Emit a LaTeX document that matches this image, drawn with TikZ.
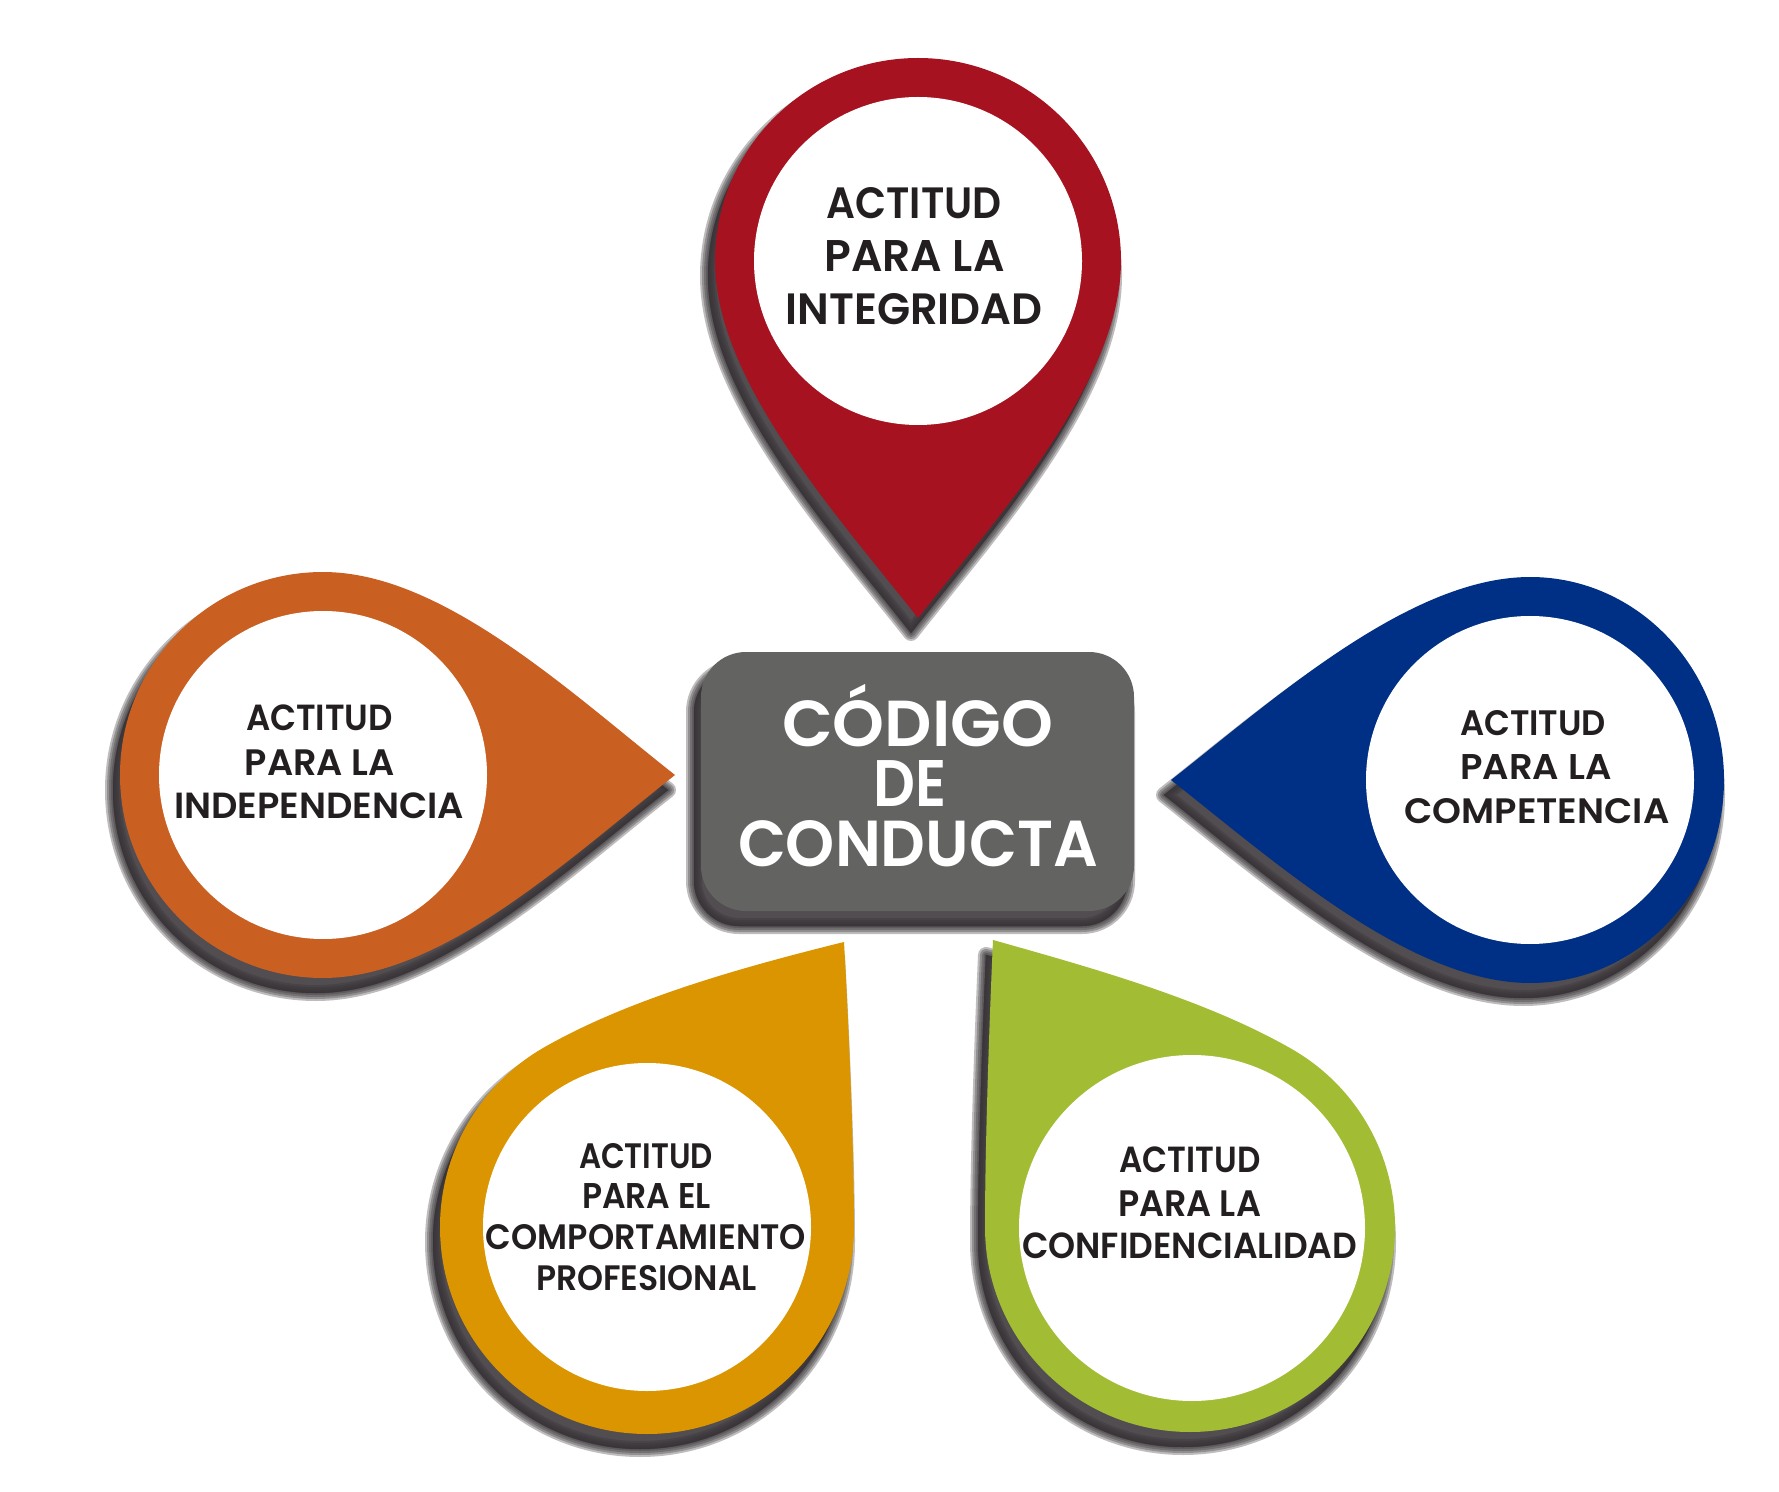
\documentclass[tikz,border=0pt]{standalone}
\usepackage{fontspec}
\usepackage{graphicx}
\newfontfamily\pop{Poppins}[BoldFont={Poppins SemiBold}]
\definecolor{cred}{HTML}{A6121F}
\definecolor{corange}{HTML}{C96022}
\definecolor{cblue}{HTML}{003085}
\definecolor{cgold}{HTML}{DA9500}
\definecolor{cgreen}{HTML}{A2BC33}
\definecolor{cbox}{HTML}{636362}
\definecolor{cshadow}{HTML}{353134}
\definecolor{ctext}{HTML}{231F20}
\newlength\pxu
\setlength\pxu{0.5pt}
\newcommand\fitt[3]{\resizebox{#1\pxu}{#2\pxu}{#3}}
\newcommand\pinpath[2]{(#2,0) .. controls ({#2-103},81) and (120,203) .. (0,203) arc[start angle=90, end angle=270, x radius=#1, y radius=203] .. controls (120,-203) and ({#2-103},-81) .. (#2,0) -- cycle}
\def\boxpath{[rounded corners=22.5pt] (701,652) rectangle (1134,911)}
\def\goldpath{(844,942) .. controls (849,1030) and (854,1150) .. (854,1227) arc[start angle=0, end angle=240, radius=207] .. controls (630,998) and (747,966) .. (844,942) -- cycle}
\def\greenpath{(993,940) .. controls (989,1030) and (985,1150) .. (985,1227) arc[start angle=180, end angle=-60, radius=205] .. controls (1206,999.5) and (1089,967) .. (993,940) -- cycle}
\newcommand\shadowof[1]{\foreach \lw in {16,12,8,4,1}{\path[shadelayer=\lw\pxu] #1;}}
\begin{document}
\begin{tikzpicture}[x=0.5pt,y=-0.5pt]
\tikzset{
 lbl/.style={inner sep=0pt, anchor=base, text=ctext, font=\pop\bfseries\fontsize{18}{20}\selectfont},
 ctr/.style={inner sep=0pt, anchor=base, text=white, font=\pop\bfseries\fontsize{33}{36}\selectfont},
 shadelayer/.style={fill=cshadow, draw=cshadow, fill opacity=0.32, draw opacity=0.32, line join=round, line width=#1},
}
\useasboundingbox (0,0) rectangle (1779,1492);
\fill[white] (0,0) rectangle (1779,1492);
% shadows
\begin{scope}[shift={(-7,15)}]
 \begin{scope}[shift={(918,261)},rotate=-90] \shadowof{\pinpath{203}{357}} \end{scope}
 \begin{scope}[shift={(323,775)}] \shadowof{\pinpath{203}{352}} \end{scope}
 \begin{scope}[shift={(1530,780)},rotate=180] \shadowof{\pinpath{194}{359}} \end{scope}
 \shadowof{\goldpath}
 \shadowof{\greenpath}
 \shadowof{\boxpath}
\end{scope}
% shapes
\begin{scope}[shift={(918,261)},rotate=-90]
 \fill[cred] \pinpath{203}{357};
 \fill[white] (0,0) circle[radius=164];
\end{scope}
\begin{scope}[shift={(323,775)}]
 \fill[corange] \pinpath{203}{352};
 \fill[white] (0,0) circle[radius=164];
\end{scope}
\begin{scope}[shift={(1530,780)},rotate=180]
 \fill[cblue] \pinpath{194}{359};
 \fill[white] (0,0) circle[radius=164];
\end{scope}
\fill[cgold] \goldpath;
\fill[white] (647,1227) circle[radius=164];
\fill[cgreen] \greenpath;
\fill[white] (1192,1228) circle[radius=173];
\fill[cbox] \boxpath;
% texts
\node[ctr] (c1) at (917.5,746) {\fitt{271}{46}{C\smash{Ó}DIGO}};
\node[ctr] (c2) at (910,806) {\fitt{73}{46}{DE}};
\node[ctr] (c3) at (918,866) {\fitt{360}{46}{CONDUCTA}};
\node[lbl] (r1) at (914,219) {\fitt{175}{31}{ACTITUD}};
\node[lbl] (r2) at (914.5,272) {\fitt{180}{31}{PARA LA}};
\node[lbl] (r3) at (914,325) {\fitt{257}{31}{INTEGRIDAD}};
\node[lbl] (o1) at (319.5,731) {\fitt{147}{25.7}{ACTITUD}};
\node[lbl] (o2) at (320,775) {\fitt{150}{25.7}{PARA LA}};
\node[lbl] (o3) at (319,819) {\fitt{290}{25.7}{INDEPENDENCIA}};
\node[lbl] (b1) at (1533,735) {\fitt{146}{25}{ACTITUD}};
\node[lbl] (b2) at (1536,779) {\fitt{151}{25}{PARA LA}};
\node[lbl] (b3) at (1537,823) {\fitt{265}{25}{COMPETENCIA}};
\node[lbl] (g1) at (646,1168) {\fitt{134}{25}{ACTITUD}};
\node[lbl] (g2) at (646.5,1208) {\fitt{129}{25}{PARA EL}};
\node[lbl] (g3) at (646,1249) {\fitt{320}{25}{COMPORTAMIENTO}};
\node[lbl] (g4) at (646.5,1290) {\fitt{221}{25}{PROFESIONAL}};
\node[lbl] (n1) at (1190,1172) {\fitt{141}{25.7}{ACTITUD}};
\node[lbl] (n2) at (1189.5,1216) {\fitt{143}{25.7}{PARA LA}};
\node[lbl] (n3) at (1189.7,1258) {\fitt{335}{25.7}{CONFIDENCIALIDAD}};
\end{tikzpicture}
\end{document}
